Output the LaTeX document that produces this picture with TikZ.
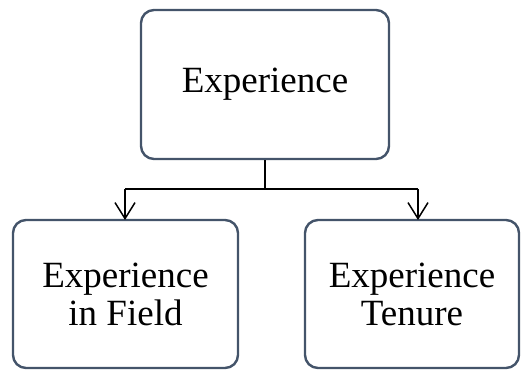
\documentclass[tikz,border=0pt]{standalone}
\usepackage{fontspec}
\setmainfont{Liberation Serif}
\usetikzlibrary{arrows.meta}
\definecolor{boxline}{HTML}{44546A}
\begin{document}
\begin{tikzpicture}[x=1pt,y=1pt,
  card/.style={draw=boxline, line width=2.4pt, rounded corners=13pt, fill=white,
    align=center, inner sep=0pt, font=\fontsize{37}{38}\selectfont},
  link/.style={draw=black, line width=1.5pt},
  tip/.style={-{Straight Barb[length=16pt,width=20pt,line width=1.5pt]}}]
\useasboundingbox (0,0) rectangle (521,369);
% parent box
\node[card, minimum width=248pt, minimum height=149pt] (exp) at (265,284.5) {Experience};
% child boxes
\node[card, minimum width=225pt, minimum height=148pt] (field) at (125.5,75) {Experience\\in Field};
\node[card, minimum width=214pt, minimum height=148pt] (tenure) at (412,75) {Experience\\Tenure};
% branch connector
\coordinate (fork) at (265,180);
\coordinate (lt) at (125,180);
\coordinate (rt) at (418,180);
\coordinate (lend) at (125,149);
\coordinate (rend) at (418,149);
\draw[link] (exp.south) -- (fork);
\draw[link] (lt) -- (rt);
\draw[link, tip] (lt) -- (lend);
\draw[link, tip] (rt) -- (rend);
\end{tikzpicture}
\end{document}
